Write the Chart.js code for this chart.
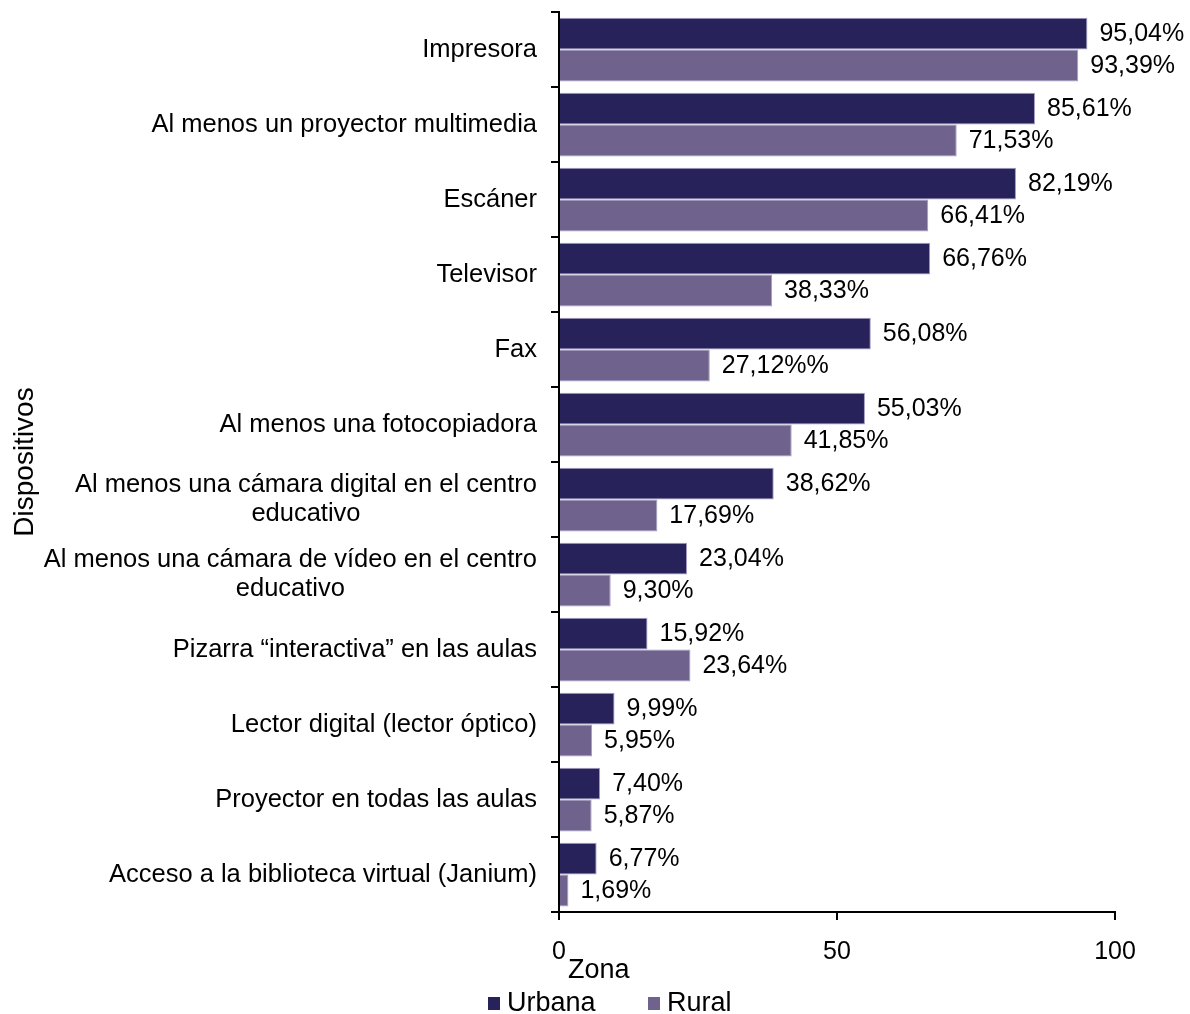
<!DOCTYPE html>
<html>
<head>
<meta charset="utf-8">
<title>Dispositivos por zona</title>
<script src="https://cdn.jsdelivr.net/npm/chart.js@4.4.1/dist/chart.umd.min.js"></script>
<style>
    html, body { margin: 0; padding: 0; background: #fff; }
    #wrapper { position: relative; width: 1190px; height: 1014px; font-family: 'Liberation Sans', Arial, sans-serif; color: #000; }
    #legend-title { position: absolute; left: 568px; top: 954px; font-size: 27px; }
    .legend-item { position: absolute; top: 986px; font-size: 27px; line-height: 32px; }
    .legend-item i { display: inline-block; width: 12px; height: 13px; margin-right: 7px; vertical-align: 1px; }
</style>
</head>
<body>
<div id="wrapper">
    <canvas id="dispositivosChart" width="1190" height="1014"></canvas>
    <div id="legend-title">Zona</div>
    <div class="legend-item" style="left: 488px;"><i style="background:#27235a"></i>Urbana</div>
    <div class="legend-item" style="left: 648px;"><i style="background:#6f628d"></i>Rural</div>
</div>
<script>
const categories = [
    'Impresora',
    'Al menos un proyector multimedia',
    'Escáner',
    'Televisor',
    'Fax',
    'Al menos una fotocopiadora',
    ['Al menos una cámara digital en el centro', 'educativo'],
    ['Al menos una cámara de vídeo en el centro', 'educativo'],
    'Pizarra “interactiva” en las aulas',
    'Lector digital (lector óptico)',
    'Proyector en todas las aulas',
    'Acceso a la biblioteca virtual (Janium)'
];
const urbana = [95.04, 85.61, 82.19, 66.76, 56.08, 55.03, 38.62, 23.04, 15.92, 9.99, 7.40, 6.77];
const rural = [93.39, 71.53, 66.41, 38.33, 27.12, 41.85, 17.69, 9.30, 23.64, 5.95, 5.87, 1.69];
// the Fax/rural label carries a doubled percent sign
const ruralSuffix = ['%', '%', '%', '%', '%%', '%', '%', '%', '%', '%', '%', '%'];
const xTicks = [0, 50, 100];

const FONT = "'Liberation Sans', Arial, sans-serif";

function fmt(v) {
    return v.toFixed(2).replace('.', ',');
}

// category names drawn left of the axis, multi-line names centred on each other
const categoryLabels = {
    id: 'categoryLabels',
    afterDraw(chart) {
        const ctx = chart.ctx;
        const y = chart.scales.y;
        const right = y.right - 22;
        ctx.save();
        ctx.font = '25.5px ' + FONT;
        ctx.fillStyle = '#000';
        ctx.textAlign = 'center';
        ctx.textBaseline = 'middle';
        categories.forEach((cat, i) => {
            const lines = Array.isArray(cat) ? cat : [cat];
            const w = Math.max(...lines.map(l => ctx.measureText(l).width));
            const cy = y.getPixelForValue(i);
            const lh = 29;
            lines.forEach((l, j) => {
                ctx.fillText(l, right - w / 2, cy + (j - (lines.length - 1) / 2) * lh);
            });
        });
        ctx.restore();
    }
};

// value labels to the right of each bar
const valueLabels = {
    id: 'valueLabels',
    afterDatasetsDraw(chart) {
        const ctx = chart.ctx;
        ctx.save();
        ctx.font = '25px ' + FONT;
        ctx.fillStyle = '#000';
        ctx.textAlign = 'left';
        ctx.textBaseline = 'middle';
        chart.data.datasets.forEach((ds, di) => {
            chart.getDatasetMeta(di).data.forEach((bar, i) => {
                const suffix = di === 1 ? ruralSuffix[i] : '%';
                ctx.fillText(fmt(ds.data[i]) + suffix, bar.x + 12, bar.y + 1);
            });
        });
        ctx.restore();
    }
};

const ctx = document.getElementById('dispositivosChart').getContext('2d');
const chart = new Chart(ctx, {
    type: 'bar',
    data: {
        labels: categories,
        datasets: [{
            label: 'Urbana',
            data: urbana,
            backgroundColor: '#27235a',
            borderColor: '#a49cc4',
            borderWidth: 1,
            borderSkipped: 'left',
            categoryPercentage: 0.85,
            barPercentage: 1.0
        }, {
            label: 'Rural',
            data: rural,
            backgroundColor: '#6f628d',
            borderColor: '#a49cc4',
            borderWidth: 1,
            borderSkipped: 'left',
            categoryPercentage: 0.85,
            barPercentage: 1.0
        }]
    },
    options: {
        indexAxis: 'y',
        responsive: false,
        animation: false,
        layout: {
            padding: { top: 12, right: 75, bottom: 42, left: 0 }
        },
        plugins: {
            legend: { display: false },
            tooltip: { enabled: false }
        },
        scales: {
            x: {
                min: 0,
                max: 100,
                afterBuildTicks: scale => {
                    scale.ticks = xTicks.map(v => ({ value: v }));
                },
                afterFit: scale => { scale.height = 60; },
                ticks: {
                    color: '#000',
                    font: { family: FONT, size: 25 },
                    padding: 17
                },
                grid: {
                    drawOnChartArea: false,
                    tickLength: 8,
                    color: '#000',
                    lineWidth: 2
                },
                border: { color: '#000', width: 2 }
            },
            y: {
                afterFit: scale => { scale.width = 559; },
                ticks: { display: false },
                grid: {
                    drawOnChartArea: false,
                    offset: true,
                    tickLength: 8,
                    color: '#000',
                    lineWidth: 2
                },
                border: { color: '#000', width: 2 },
                title: {
                    display: true,
                    text: 'Dispositivos',
                    color: '#000',
                    font: { family: FONT, size: 28 },
                    padding: { top: 8, bottom: 0 }
                }
            }
        }
    },
    plugins: [categoryLabels, valueLabels]
});
</script>
</body>
</html>
